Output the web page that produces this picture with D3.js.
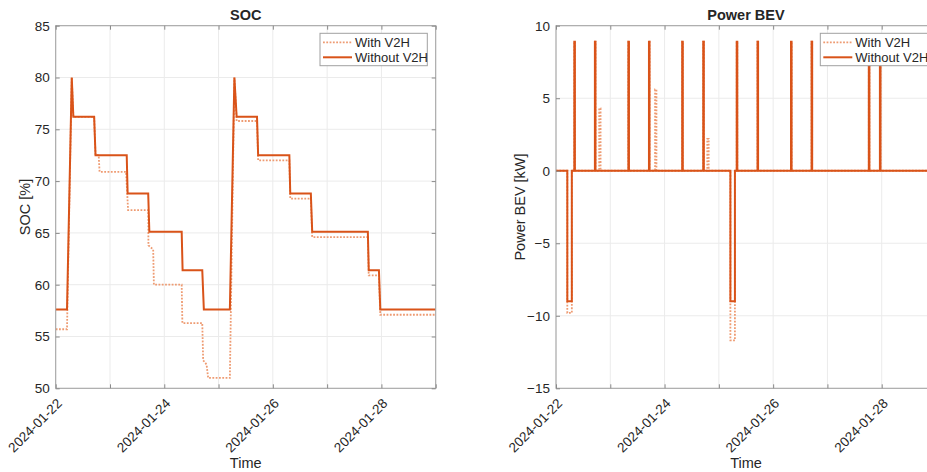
<!DOCTYPE html>
<html>
<head>
<meta charset="utf-8">
<script src="https://cdn.jsdelivr.net/npm/d3@7"></script>
<style>
  html, body { margin: 0; padding: 0; background: #fff; }
  svg { display: block; font-family: "Liberation Sans", Arial, Helvetica, sans-serif; }
</style>
</head>
<body>
<svg id="chart" width="927" height="472"></svg>
<script>
// ---- Data (time in hours after 2024-01-22 00:00) ----
const startDate = "2024-01-22";
const endDate = "2024-01-29";

// State of charge [%], breakpoints of the piecewise-linear trace
const socHoursWithout = [0, 5.0, 7.1, 7.8, 17.0, 17.6, 31.4, 31.8, 40.9, 41.4, 55.7, 56.1, 64.8, 65.5,
  77.0, 79.0, 80.0, 89.0, 89.5, 103.3, 103.7, 112.8, 113.4, 138.0, 138.4, 142.9, 143.5, 168];
const socWithout = [57.6, 57.6, 80, 76.2, 76.2, 72.5, 72.5, 68.8, 68.8, 65.1, 65.1, 61.4, 61.4, 57.6,
  57.6, 80, 76.2, 76.2, 72.5, 72.5, 68.8, 68.8, 65.1, 65.1, 61.4, 61.4, 57.6, 57.6];

const socHoursWith = [0, 5.0, 7.1, 7.8, 17.0, 17.6, 19.0, 19.4, 31.1, 32.0, 40.9, 41.0, 43.1, 43.4,
  55.7, 56.0, 64.8, 65.2, 66.7, 67.4, 77.0, 79.0, 80.0, 89.0, 89.5, 103.3, 103.7, 112.8, 113.4,
  138.0, 138.4, 142.9, 143.5, 168];
const socWith = [55.7, 55.7, 80, 76.2, 76.2, 72.5, 72.5, 70.9, 70.9, 67.2, 67.2, 63.8, 63.4, 60.0,
  60.0, 56.3, 56.3, 52.7, 52.3, 51.0, 51.0, 80, 75.8, 75.8, 72.0, 72.0, 68.3, 68.3, 64.6,
  64.6, 60.9, 60.9, 57.1, 57.1];

// Power of the BEV [kW]: charging windows (negative), driving and V2H discharge pulses (positive)
const chargeStartH = [5.0, 77.1];
const chargeEndH = [7.0, 79.1];
const chargeKwWithout = [-9.0, -9.0];
const chargeKwWith = [-9.8, -11.7];
const driveH = [8.1, 17.2, 32.0, 41.1, 55.8, 65.1, 79.9, 89.1, 103.9, 113.0, 138.3, 143.2];
const driveKw = [8.9, 8.9, 8.9, 8.9, 8.9, 8.9, 8.9, 8.9, 8.9, 8.9, 8.9, 8.9];
const driveDurH = 0.25;
const v2hH = [19.1, 43.8, 66.9];
const v2hKw = [4.3, 5.6, 2.2];
const v2hDurH = 0.6;

const seriesNames = ["With V2H", "Without V2H"];
const socTicks = [50, 55, 60, 65, 70, 75, 80, 85];
const powerTicks = [-15, -10, -5, 0, 5, 10];

// ---- Helpers ----
const t0 = new Date(startDate + "T00:00:00Z");
const t1 = new Date(endDate + "T00:00:00Z");
const atHour = h => new Date(t0.getTime() + h * 3600e3);
const zip = (hs, vs) => hs.map((h, i) => ({ t: atHour(h), v: vs[i] }));

function pulseSeries(pulses) {
  // pulses: [startHour, endHour, value]; zero everywhere else
  const pts = [{ t: atHour(0), v: 0 }];
  pulses.sort((a, b) => a[0] - b[0]).forEach(([s, e, v]) => {
    pts.push({ t: atHour(s), v: 0 }, { t: atHour(s), v: v }, { t: atHour(e), v: v }, { t: atHour(e), v: 0 });
  });
  pts.push({ t: t1, v: 0 });
  return pts;
}

const drivePulses = driveH.map((h, i) => [h, h + driveDurH, driveKw[i]]);
const powerWithout = pulseSeries(
  chargeStartH.map((s, i) => [s, chargeEndH[i], chargeKwWithout[i]]).concat(drivePulses));
const powerWith = pulseSeries(
  chargeStartH.map((s, i) => [s, chargeEndH[i], chargeKwWith[i]])
    .concat(drivePulses)
    .concat(v2hH.map((h, i) => [h, h + v2hDurH, v2hKw[i]])));

// ---- Styles ----
const C_SOLID = "#D95319";
const C_DOT = "#EE9B72";
const C_AXIS = "#a0a0a0";
const C_GRID = "#ebebeb";
const C_TEXT = "#262626";
const DOT_W = 1.8, DOT_DASH = "1.8,1.5";

const svg = d3.select("#chart");
svg.append("rect").attr("width", 927).attr("height", 472).attr("fill", "#fff");

function drawPanel(opts) {
  const { left, top, width, height, yDomain, yTicks, title, yLabel, dotted, solid, id } = opts;
  const x = d3.scaleUtc().domain([t0, t1]).range([left, left + width]);
  const y = d3.scaleLinear().domain(yDomain).range([top + height, top]);
  const g = svg.append("g");
  const days = d3.utcDay.range(t0, d3.utcDay.offset(t1, 1));
  const labelDays = days.filter((d, i) => i % 2 === 0);

  // grid
  g.append("g").selectAll("line").data(days).join("line")
    .attr("x1", d => x(d)).attr("x2", d => x(d))
    .attr("y1", top).attr("y2", top + height)
    .attr("stroke", C_GRID).attr("stroke-width", 1);
  g.append("g").selectAll("line").data(yTicks).join("line")
    .attr("x1", left).attr("x2", left + width)
    .attr("y1", d => y(d)).attr("y2", d => y(d))
    .attr("stroke", C_GRID).attr("stroke-width", 1);

  // data lines
  g.append("clipPath").attr("id", id).append("rect")
    .attr("x", left).attr("y", top).attr("width", width).attr("height", height);
  const line = d3.line().x(d => x(d.t)).y(d => y(d.v));
  const lines = g.append("g").attr("clip-path", `url(#${id})`);
  lines.append("path").datum(dotted).attr("d", line)
    .attr("fill", "none").attr("stroke", C_DOT).attr("stroke-width", DOT_W)
    .attr("stroke-dasharray", DOT_DASH);
  lines.append("path").datum(solid).attr("d", line)
    .attr("fill", "none").attr("stroke", C_SOLID).attr("stroke-width", 2)
    .attr("stroke-linejoin", "miter");

  // box
  g.append("rect").attr("x", left).attr("y", top).attr("width", width).attr("height", height)
    .attr("fill", "none").attr("stroke", C_AXIS).attr("stroke-width", 1);

  // axes via d3 axis generators (inward ticks, no domain path)
  const tl = 4;
  const xb = g.append("g").attr("transform", `translate(0,${top + height})`)
    .call(d3.axisBottom(x).tickValues(days).tickSize(-tl).tickFormat(""));
  const xt = g.append("g").attr("transform", `translate(0,${top})`)
    .call(d3.axisTop(x).tickValues(days).tickSize(-tl).tickFormat(""));
  const yl = g.append("g").attr("transform", `translate(${left},0)`)
    .call(d3.axisLeft(y).tickValues(yTicks).tickSize(-tl).tickPadding(6));
  const yr = g.append("g").attr("transform", `translate(${left + width},0)`)
    .call(d3.axisRight(y).tickValues(yTicks).tickSize(-tl).tickFormat(""));
  [xb, xt, yl, yr].forEach(a => {
    a.select(".domain").remove();
    a.selectAll(".tick line").attr("stroke", "#8a8a8a");
  });
  yl.selectAll(".tick text").attr("font-size", 13.5).attr("fill", C_TEXT)
    .attr("font-family", "Liberation Sans, Arial, sans-serif");

  // rotated date labels
  const fmt = d3.utcFormat("%Y-%m-%d");
  g.append("g").selectAll("text").data(labelDays).join("text")
    .attr("transform", d => `translate(${x(d) + 7},${top + height + 16}) rotate(-45)`)
    .attr("text-anchor", "end").attr("font-size", 13.5).attr("fill", C_TEXT)
    .text(d => fmt(d));

  // titles
  g.append("text").attr("x", left + width / 2).attr("y", top - 6)
    .attr("text-anchor", "middle").attr("font-size", 14.5).attr("font-weight", "bold")
    .attr("fill", C_TEXT).text(title);
  g.append("text").attr("x", left + width / 2).attr("y", 468)
    .attr("text-anchor", "middle").attr("font-size", 14.5).attr("fill", C_TEXT).text("Time");
  g.append("text")
    .attr("transform", `translate(${opts.yLabelX},${top + height / 2}) rotate(-90)`)
    .attr("text-anchor", "middle").attr("font-size", 14.5).attr("fill", C_TEXT).text(yLabel);

  // legend
  const lx = left + width - 115.7, ly = top + 7.6;
  const lg = g.append("g");
  lg.append("rect").attr("x", lx).attr("y", ly).attr("width", 107.3).attr("height", 32.4)
    .attr("fill", "#fff").attr("stroke", "#a0a0a0").attr("stroke-width", 1);
  seriesNames.forEach((name, i) => {
    const yy = ly + 9 + i * 15;
    lg.append("line").attr("x1", lx + 3).attr("x2", lx + 32).attr("y1", yy).attr("y2", yy)
      .attr("stroke", i === 0 ? C_DOT : C_SOLID)
      .attr("stroke-width", i === 0 ? DOT_W : 2)
      .attr("stroke-dasharray", i === 0 ? DOT_DASH : null);
    lg.append("text").attr("x", lx + 35).attr("y", yy + 4.6).attr("font-size", 13)
      .attr("fill", C_TEXT).text(name);
  });
}

drawPanel({
  id: "clipSoc", left: 55.7, top: 25.7, width: 380, height: 362.6,
  yDomain: [50, 85], yTicks: socTicks, title: "SOC", yLabel: "SOC [%]", yLabelX: 30,
  dotted: zip(socHoursWith, socWith), solid: zip(socHoursWithout, socWithout)
});
drawPanel({
  id: "clipPower", left: 556, top: 25.7, width: 380, height: 362.6,
  yDomain: [-15, 10], yTicks: powerTicks, title: "Power BEV", yLabel: "Power BEV [kW]", yLabelX: 525,
  dotted: powerWith, solid: powerWithout
});
</script>
</body>
</html>
